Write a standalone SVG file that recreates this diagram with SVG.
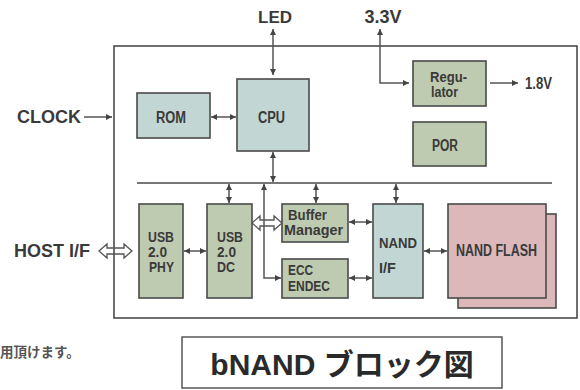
<svg xmlns="http://www.w3.org/2000/svg" width="580" height="390" viewBox="0 0 580 390">
<style>
.bg{fill:#ffffff}
.box{stroke:#4a4a4a;stroke-width:1.6}
.g{fill:#bfcbb0}
.b{fill:#c2d6d3}
.p{fill:#dcb8bb}
.lbl{font-family:"Liberation Sans",Arial,sans-serif;font-weight:bold;font-size:14.5px;fill:#3a3a3a}
.ext{font-family:"Liberation Sans",Arial,sans-serif;font-weight:bold;font-size:18px;fill:#3a3a3a}
.con{stroke:#555;stroke-width:1.5;fill:none}
.hol{stroke:#555;stroke-width:1.3;fill:none;stroke-linejoin:miter}
</style>
<defs>
<marker id="ah" viewBox="0 0 6 6" refX="6" refY="3" markerWidth="6" markerHeight="6" markerUnits="userSpaceOnUse" orient="auto-start-reverse">
<path d="M0,0 L6,3 L0,6 z" fill="#444"/>
</marker>
</defs>
<rect class="bg" x="0" y="0" width="580" height="390"/>

<g id="chip">
<rect x="114" y="46" width="463" height="272" fill="none" stroke="#4a4a4a" stroke-width="1.6"/>
<line x1="137" y1="183" x2="552" y2="183" stroke="#777" stroke-width="2"/>
</g>

<g id="connectors">
<line class="con" x1="273" y1="29" x2="273" y2="75" marker-start="url(#ah)" marker-end="url(#ah)"/>
<line class="con" x1="211" y1="117" x2="236" y2="117" marker-start="url(#ah)" marker-end="url(#ah)"/>
<line class="con" x1="273" y1="152" x2="273" y2="182" marker-start="url(#ah)" marker-end="url(#ah)"/>
<line class="con" x1="229" y1="184" x2="229" y2="203" marker-start="url(#ah)" marker-end="url(#ah)"/>
<path class="con" d="M264,184 V278 H281" marker-start="url(#ah)" marker-end="url(#ah)"/>
<line class="con" x1="316" y1="184" x2="316" y2="203" marker-start="url(#ah)" marker-end="url(#ah)"/>
<line class="con" x1="396" y1="184" x2="396" y2="203" marker-start="url(#ah)" marker-end="url(#ah)"/>
<line class="con" x1="184" y1="251" x2="206" y2="251" marker-start="url(#ah)" marker-end="url(#ah)"/>
<line class="con" x1="349" y1="222" x2="372" y2="222" marker-start="url(#ah)" marker-end="url(#ah)"/>
<line class="con" x1="349" y1="278" x2="372" y2="278" marker-start="url(#ah)" marker-end="url(#ah)"/>
<line class="con" x1="424" y1="251" x2="447" y2="251" marker-start="url(#ah)" marker-end="url(#ah)"/>
<line class="con" x1="84" y1="117" x2="112" y2="117" marker-end="url(#ah)"/>
<path class="con" d="M380,29 V83 H409" marker-start="url(#ah)" marker-end="url(#ah)"/>
<line class="con" x1="490" y1="83" x2="518" y2="83" marker-end="url(#ah)"/>
<polygon class="hol" points="99,251 107,244 107,248 124,248 124,244 132,251 124,258 124,254 107,254 107,258"/>
<polygon class="hol" points="252,223 260,216 260,220 274,220 274,216 282,223 274,230 274,226 260,226 260,230"/>
</g>

<g id="labels">
<text class="ext" x="275" y="23" text-anchor="middle" style="font-size:17px">LED</text>
<text class="ext" x="383" y="23" text-anchor="middle">3.3V</text>
<text class="ext" x="49" y="123" text-anchor="middle">CLOCK</text>
<text class="ext" x="52" y="257" text-anchor="middle">HOST I/F</text>
<text class="lbl" x="525" y="89" style="font-size:16.5px" textLength="27" lengthAdjust="spacingAndGlyphs">1.8V</text>
</g>

<g id="rom"><rect class="box b" x="137" y="93" width="73" height="45"/><text class="lbl" x="156" y="123" style="font-size:16px" textLength="30" lengthAdjust="spacingAndGlyphs">ROM</text></g>
<g id="cpu"><rect class="box b" x="237" y="79" width="72" height="72"/><text class="lbl" x="258" y="123" style="font-size:16px" textLength="27" lengthAdjust="spacingAndGlyphs">CPU</text></g>
<g id="regulator"><rect class="box g" x="413" y="61" width="73" height="45"/><text class="lbl" x="430" y="82" textLength="37" lengthAdjust="spacingAndGlyphs">Regu-</text><text class="lbl" x="431" y="97" textLength="27" lengthAdjust="spacingAndGlyphs">lator</text></g>
<g id="por"><rect class="box g" x="413" y="122" width="73" height="44"/><text class="lbl" x="432" y="151" style="font-size:16px" textLength="26" lengthAdjust="spacingAndGlyphs">POR</text></g>
<g id="usbphy"><rect class="box g" x="139" y="204" width="44" height="94"/><text class="lbl" x="148" y="242" textLength="26" lengthAdjust="spacingAndGlyphs">USB</text><text class="lbl" x="148" y="257" textLength="19" lengthAdjust="spacingAndGlyphs">2.0</text><text class="lbl" x="149" y="272" textLength="25" lengthAdjust="spacingAndGlyphs">PHY</text></g>
<g id="usbdc"><rect class="box g" x="207" y="204" width="45" height="94"/><text class="lbl" x="217" y="242" textLength="26" lengthAdjust="spacingAndGlyphs">USB</text><text class="lbl" x="217" y="257" textLength="19" lengthAdjust="spacingAndGlyphs">2.0</text><text class="lbl" x="217" y="272" textLength="18" lengthAdjust="spacingAndGlyphs">DC</text></g>
<g id="buffer"><rect class="box g" x="282" y="204" width="66" height="38"/><text class="lbl" x="288" y="220" textLength="39" lengthAdjust="spacingAndGlyphs">Buffer</text><text class="lbl" x="284" y="235" textLength="59" lengthAdjust="spacingAndGlyphs">Manager</text></g>
<g id="ecc"><rect class="box g" x="282" y="259" width="66" height="39"/><text class="lbl" x="288" y="275" textLength="25" lengthAdjust="spacingAndGlyphs">ECC</text><text class="lbl" x="288" y="291" textLength="42" lengthAdjust="spacingAndGlyphs">ENDEC</text></g>
<g id="nandif"><rect class="box b" x="373" y="204" width="50" height="94"/><text class="lbl" x="379" y="248" style="font-size:15.5px" textLength="38" lengthAdjust="spacingAndGlyphs">NAND</text><text class="lbl" x="379" y="273" style="font-size:15.5px" textLength="17" lengthAdjust="spacingAndGlyphs">I/F</text></g>
<g id="nandflash"><rect class="box p" x="458" y="214" width="98" height="94"/><rect class="box p" x="448" y="204" width="98" height="94"/><text class="lbl" x="456" y="256" style="font-size:16px" textLength="81" lengthAdjust="spacingAndGlyphs">NAND FLASH</text></g>

<g id="note"><text x="0" y="357" style="font-family:'Noto Sans CJK JP',sans-serif;font-size:13.5px;font-weight:bold;fill:#555">用頂けます。</text></g>

<g id="title"><rect x="182" y="337" width="320" height="51" fill="#fff" stroke="#555" stroke-width="1.5"/><text x="342" y="375" text-anchor="middle" style="font-family:'Liberation Sans','Noto Sans CJK JP',sans-serif;font-weight:bold;font-size:30px;fill:#2a2a2a">bNAND ブロック図</text></g>
</svg>
